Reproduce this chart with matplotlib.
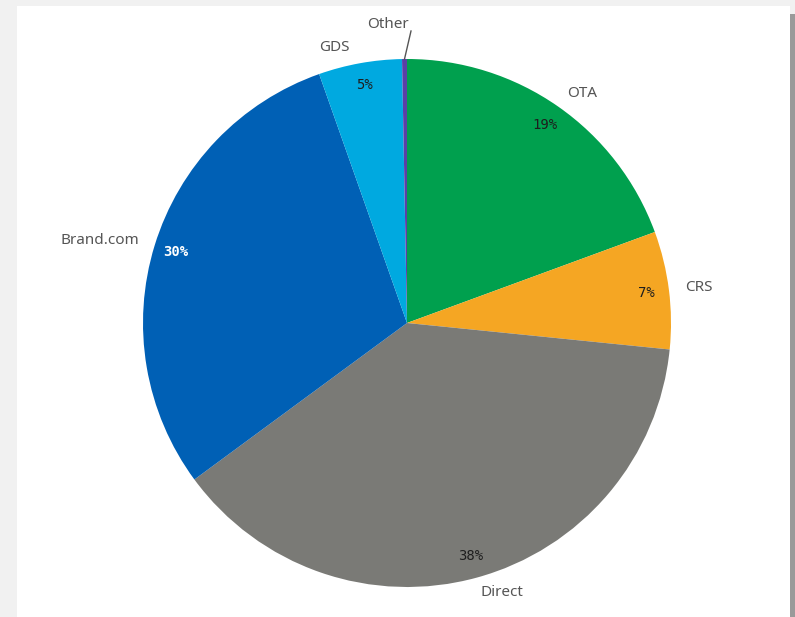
import numpy as np
import matplotlib
matplotlib.use("Agg")
import matplotlib.pyplot as plt
from matplotlib.patches import Rectangle

# Booking channel share (%)
channels = ["OTA", "CRS", "Direct", "Brand.com", "GDS", "Other"]
shares = [19.4, 7.2, 38.3, 29.7, 5.1, 0.3]
pct_labels = ["19%", "7%", "38%", "30%", "5%", ""]
colors = ["#00A04E", "#F5A623", "#7A7A76", "#0060B5", "#00A9E0", "#5B3FA6"]
pct_colors = ["#1e1e1e", "#1e1e1e", "#1e1e1e", "#ffffff", "#1e1e1e", "#1e1e1e"]

W, H = 795, 617
fig = plt.figure(figsize=(W / 100, H / 100), dpi=100, facecolor="#f1f1f1")

# card background with a shadow on the right side
bg = fig.add_axes([0, 0, 1, 1], zorder=-5)
bg.set_xlim(0, W)
bg.set_ylim(0, H)
bg.set_axis_off()
bg.add_patch(Rectangle((17, 0), 790 - 17, H - 6, facecolor="white", edgecolor="none"))
bg.add_patch(Rectangle((790, 0), 5, H - 14, facecolor="#9a9a9a", edgecolor="none"))

ax = fig.add_axes([0, 0, 1, 1])
ax.patch.set_alpha(0)

cx, cy, R = 407, H - 323, 264
wedges, _ = ax.pie(shares, colors=colors, startangle=90, counterclock=False,
                   center=(cx, cy), radius=R, frame=True,
                   wedgeprops=dict(linewidth=0))
ax.set_xlim(0, W)
ax.set_ylim(0, H)
ax.set_axis_off()

label_font = ["Noto Sans", "DejaVu Sans"]
pct_font = ["DejaVu Sans Mono"]

for w, name, pct, pc in zip(wedges, channels, pct_labels, pct_colors):
    mid = np.deg2rad((w.theta1 + w.theta2) / 2)
    dx, dy = np.cos(mid), np.sin(mid)
    if name == "Other":
        # leader line for the thin slice
        x0, y0 = cx + R * dx, cy + R * dy
        x1, y1 = cx + 4, cy + R + 28
        ax.plot([x0, x1], [y0, y1], color="#555555", lw=1)
        ax.text(x1 - 2, y1 + 6, name, ha="right", va="center", fontsize=11,
                color="#555555", family=label_font)
        continue
    ld = 1.06
    ha = "left" if dx > 0 else "right"
    lx = cx + R * ld * dx
    if name == "GDS":
        lx -= 8
    ax.text(lx, cy + R * ld * dy, name, ha=ha, va="center",
            fontsize=11, color="#555555", family=label_font)
    pd_ = 0.915
    ax.text(cx + R * pd_ * dx, cy + R * pd_ * dy, pct, ha="center", va="center",
            fontsize=10, color=pc, family=pct_font,
            fontweight="bold" if pc == "#ffffff" else "normal")

fig.savefig("out.png", dpi=100, facecolor=fig.get_facecolor())
